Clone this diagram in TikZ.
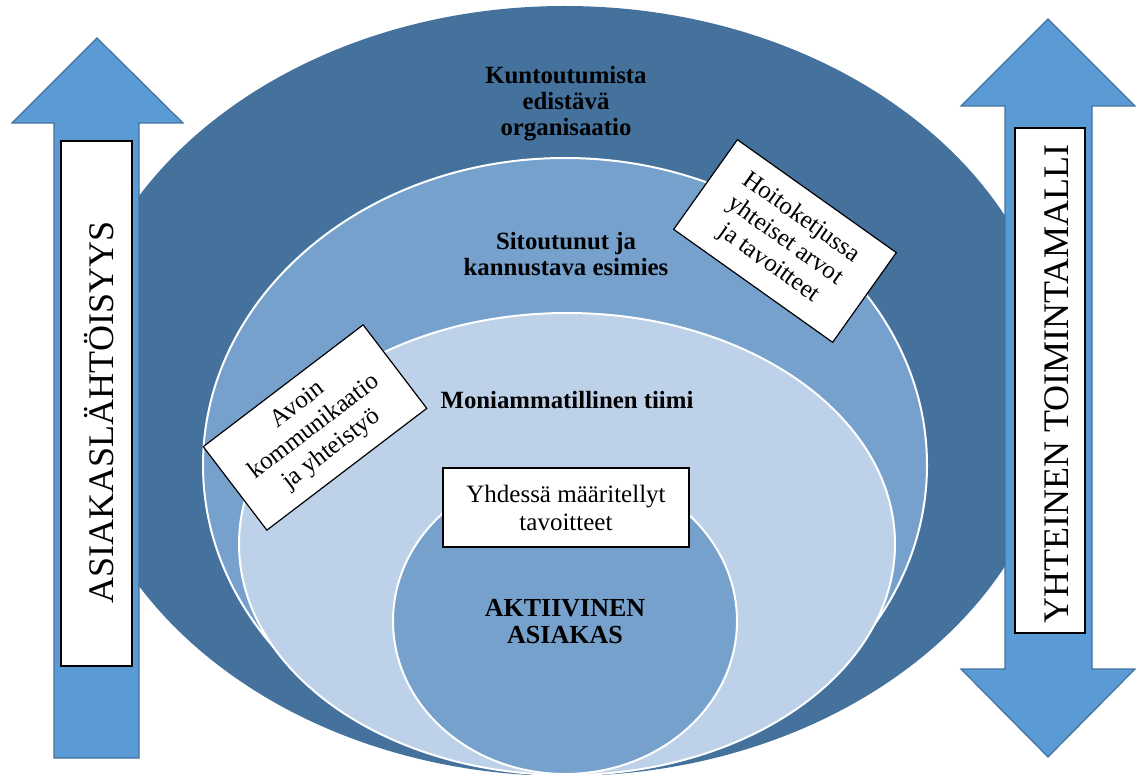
\documentclass[tikz,border=0pt]{standalone}
\usepackage{fontspec}
\setmainfont{Liberation Serif}
\definecolor{outerblue}{HTML}{44729D}
\definecolor{midblue}{HTML}{76A1CD}
\definecolor{paleblue}{HTML}{BDD1E9}
\definecolor{arrowblue}{HTML}{5B9BD5}
\definecolor{arrowedge}{HTML}{41719C}
\begin{document}
\begin{tikzpicture}[x=0.5pt,y=-0.5pt,
  ring/.style={draw=white,line width=1pt},
  bigarrow/.style={fill=arrowblue,draw=arrowedge,line width=0.6pt,line join=miter},
  labelbox/.style={draw=black,fill=white,line width=0.6pt,inner sep=0pt,align=center,
    font=\fontsize{12.5}{14}\selectfont},
  sidebox/.style={draw=black,fill=white,line width=0.6pt,inner sep=0pt},
  title/.style={align=center,font=\bfseries\fontsize{12.4}{13}\selectfont},
  sidetext/.style={rotate=90,anchor=base,inner sep=0pt,font=\fontsize{18}{20}\selectfont}]
\useasboundingbox (0,0) rectangle (1136,775);

% nested levels, from the organisation down to the client
\fill[outerblue] (565,391) ellipse [x radius=247pt, y radius=192.5pt];
\filldraw[midblue,ring] (565,465) ellipse [x radius=181pt, y radius=153.5pt];
\filldraw[paleblue,ring] (567,544) ellipse [x radius=164pt, y radius=115.5pt];
\filldraw[midblue,ring] (565,621) ellipse [x radius=86pt, y radius=76.5pt];

% side arrows
\draw[bigarrow] (97,38) -- (183,123) -- (139,123) -- (139,758) -- (54,758) -- (54,123) -- (12,123) -- cycle;
\draw[bigarrow] (1048,19) -- (1135,106) -- (1092,106) -- (1092,669) -- (1135,669) -- (1048,757)
  -- (961,669) -- (1005,669) -- (1005,106) -- (961,106) -- cycle;

\node[sidebox, minimum width=35.5pt, minimum height=262.5pt] (leftbox) at (96.5,403.5) {};
\node[sidebox, minimum width=35pt, minimum height=252.5pt] (rightbox) at (1050,380.5) {};
\node[sidetext] (lefttext) at (113,412) {ASIAKASLÄHTÖISYYS};
\node[sidetext] (righttext) at (1068,384) {YHTEINEN TOIMINTAMALLI};

% level titles
\node[title] (org) at (566,104) {Kuntoutumista\\edistävä\\organisaatio};
\node[title] (boss) at (566,254) {Sitoutunut ja\\kannustava esimies};
\node[title] (team) at (567,400) {Moniammatillinen tiimi};
\node[title, font=\bfseries\fontsize{13}{13.5}\selectfont] (client) at (565,622) {AKTIIVINEN\\ASIAKAS};

% tilted and plain label boxes
\node[labelbox, minimum width=97.5pt, minimum height=55pt, rotate=-35.4] (values) at (785,241)
  {Hoitoketjussa\\yhteiset arvot\\ja tavoitteet};
\node[labelbox, minimum width=100.5pt, minimum height=52.5pt, rotate=37.3] (comm) at (315,427.5)
  {Avoin\\kommunikaatio\\ja yhteistyö};
\node[labelbox, minimum width=123pt, minimum height=39.5pt] (goals) at (566,507.5)
  {Yhdessä määritellyt\\tavoitteet};
\end{tikzpicture}
\end{document}
